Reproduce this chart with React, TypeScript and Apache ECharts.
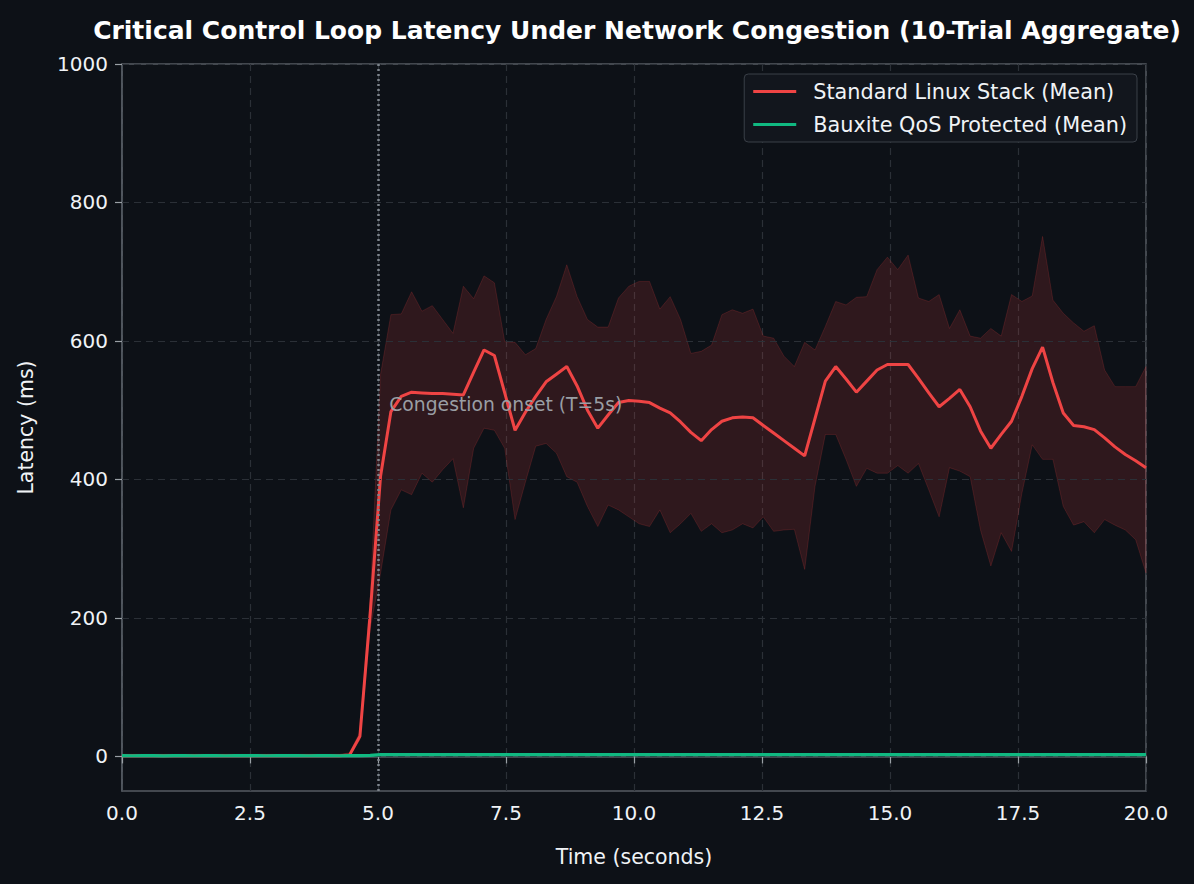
import React, { useEffect, useRef } from "react";
import * as echarts from "echarts";

const N_SAMPLES = 100;
const T_END = 20;
const time: number[] = Array.from({ length: N_SAMPLES }, (_, i) => (i * T_END) / (N_SAMPLES - 1));

const standardMean: number[] = [
  1, 1, 1, 1, 1, 1, 1, 1, 1, 1,
  1, 1, 1, 1, 1, 1, 1, 1, 1, 1,
  1, 1, 2, 29, 207, 405, 498, 520, 526, 525,
  524, 524, 523, 522, 555, 587, 579, 525, 471, 497,
  520, 541, 552, 563, 535, 500, 474, 493, 511, 514,
  513, 511, 503, 496, 483, 468, 456, 472, 484, 489,
  490, 489, 478, 467, 456, 445, 434, 488, 542, 563,
  545, 526, 542, 558, 566, 566, 566, 546, 525, 505,
  517, 530, 505, 470, 445, 465, 484, 520, 560, 591,
  540, 496, 478, 476, 472, 460, 447, 436, 427, 417,
];

const standardUpper: number[] = [
  3, 3, 3, 3, 3, 3, 3, 3, 3, 3,
  3, 3, 3, 3, 3, 3, 3, 3, 3, 3,
  3, 3, 5, 35, 230, 552, 638, 639, 671, 643,
  651, 631, 611, 679, 661, 694, 684, 599, 598, 580,
  589, 631, 664, 710, 664, 631, 620, 620, 662, 679,
  686, 686, 646, 664, 631, 582, 585, 594, 638, 645,
  640, 646, 607, 604, 578, 563, 598, 587, 621, 657,
  652, 663, 664, 703, 721, 703, 724, 662, 657, 667,
  618, 645, 607, 604, 618, 607, 667, 657, 665, 751,
  659, 640, 626, 614, 622, 558, 534, 534, 534, 563,
];

const standardLower: number[] = [
  0, 0, 0, 0, 0, 0, 0, 0, 0, 0,
  0, 0, 0, 0, 0, 0, 0, 0, 0, 0,
  0, 0, 0, 24, 185, 265, 356, 385, 378, 409,
  396, 414, 430, 359, 445, 474, 471, 445, 342, 396,
  448, 452, 438, 404, 396, 361, 332, 363, 356, 346,
  336, 332, 356, 323, 336, 351, 325, 336, 323, 327,
  336, 330, 346, 325, 327, 328, 270, 390, 465, 465,
  429, 390, 416, 409, 409, 420, 409, 423, 385, 346,
  417, 412, 404, 327, 275, 323, 296, 380, 450, 429,
  429, 361, 334, 339, 323, 342, 334, 327, 313, 265,
];

const bauxiteMean: number[] = [
  1.0, 0.9, 1.1, 1.0, 0.8, 1.0, 1.1, 0.9, 1.0, 1.0,
  0.9, 1.0, 1.1, 1.0, 0.9, 1.0, 1.0, 1.1, 0.9, 1.0,
  1.0, 0.9, 1.0, 1.1, 1.5, 2.5, 2.6, 2.4, 2.5, 2.6,
  2.5, 2.4, 2.5, 2.6, 2.5, 2.5, 2.4, 2.6, 2.5, 2.5,
  2.6, 2.4, 2.5, 2.5, 2.6, 2.5, 2.4, 2.5, 2.6, 2.5,
  2.5, 2.4, 2.5, 2.6, 2.5, 2.5, 2.4, 2.5, 2.6, 2.5,
  2.5, 2.4, 2.5, 2.6, 2.5, 2.5, 2.4, 2.5, 2.6, 2.5,
  2.5, 2.4, 2.5, 2.6, 2.5, 2.5, 2.4, 2.5, 2.6, 2.5,
  2.5, 2.4, 2.5, 2.6, 2.5, 2.5, 2.4, 2.5, 2.6, 2.5,
  2.5, 2.4, 2.5, 2.6, 2.5, 2.5, 2.4, 2.5, 2.6, 2.5,
];

const xTicks = { min: 0, max: 20, interval: 2.5 };
const yTickValues: number[] = [0, 200, 400, 600, 800, 1000];
const yRange = { min: -50, max: 1000 };
const congestionOnset = 5;
const annotation = { text: "Congestion onset (T=5s)", x: 5.22, y: 508 };

const TITLE = "Critical Control Loop Latency Under Network Congestion (10-Trial Aggregate)";
const NAME_STD = "Standard Linux Stack (Mean)";
const NAME_BAUX = "Bauxite QoS Protected (Mean)";

const BG = "#0d1117";
const RED = "#ef4444";
const GREEN = "#10b981";
const GRID_LINE = "#2b3037";
const SPINE = "#555b63";
const TEXT = "#f0f3f6";
const FONT = "DejaVu Sans";

export default function App() {
  const ref = useRef<HTMLDivElement>(null);

  useEffect(() => {
    if (!ref.current) return;
    const chart = echarts.init(ref.current, undefined, { renderer: "svg" });

    const pairs = (vals: number[]) => vals.map((v, i) => [time[i], v]);
    const bandData = time.map((t, i) => [t, standardLower[i], standardUpper[i]]);

    const option: any = {
      animation: false,
      backgroundColor: BG,
      textStyle: { fontFamily: FONT },
      title: {
        text: TITLE,
        left: 632,
        textAlign: "center",
        top: 10,
        textStyle: { color: "#ffffff", fontSize: 25, fontWeight: "bold", fontFamily: FONT, lineHeight: 30 },
      },
      legend: {
        data: [NAME_STD, NAME_BAUX],
        orient: "vertical",
        right: 57,
        top: 74,
        padding: [5, 10, 5, 9],
        itemGap: 8,
        itemWidth: 43,
        itemHeight: 3,
        icon: "rect",
        backgroundColor: "#12161d",
        borderColor: "#3a4048",
        borderWidth: 1,
        borderRadius: 4,
        textStyle: { color: TEXT, fontSize: 20.8, fontFamily: FONT, lineHeight: 25, padding: [0, 0, 0, 12] },
      },
      grid: {
        left: 122,
        right: 48,
        top: 64,
        bottom: 93,
        show: true,
        borderColor: SPINE,
        borderWidth: 1.5,
        backgroundColor: BG,
      },
      xAxis: {
        type: "value",
        min: xTicks.min,
        max: xTicks.max,
        interval: xTicks.interval,
        name: "Time (seconds)",
        nameLocation: "middle",
        nameGap: 55,
        nameTextStyle: { color: TEXT, fontSize: 20.5, fontFamily: FONT },
        axisLine: { show: true, lineStyle: { color: SPINE, width: 1.5 } },
        axisTick: { show: true, length: 7, lineStyle: { color: "#9aa0a6", width: 1.2 } },
        axisLabel: {
          color: TEXT,
          fontSize: 20,
          fontFamily: FONT,
          margin: 12,
          formatter: (v: number) => v.toFixed(1),
        },
        splitLine: { show: true, lineStyle: { color: GRID_LINE, type: [7, 5], width: 1.2 } },
      },
      yAxis: {
        type: "value",
        min: yRange.min,
        max: yRange.max,
        name: "Latency (ms)",
        nameLocation: "middle",
        nameGap: 86,
        nameTextStyle: { color: TEXT, fontSize: 20.5, fontFamily: FONT },
        axisLine: { show: true, lineStyle: { color: SPINE, width: 1.5 } },
        axisTick: { show: true, length: 7, customValues: yTickValues, lineStyle: { color: "#9aa0a6", width: 1.2 } },
        axisLabel: {
          color: TEXT,
          fontSize: 20,
          fontFamily: FONT,
          margin: 14,
          customValues: yTickValues,
          formatter: (v: number) => String(v),
        },
        splitLine: { show: false },
      },
      series: [
        {
          name: "band",
          type: "custom",
          data: bandData,
          silent: true,
          z: 1,
          encode: { x: 0, y: [1, 2] },
          renderItem: (params: any, api: any) => {
            if (params.dataIndex !== 0) return null;
            const upperPts = bandData.map((d) => api.coord([d[0], d[2]]));
            const lowerPts = bandData.map((d) => api.coord([d[0], d[1]])).reverse();
            return {
              type: "polygon",
              shape: { points: upperPts.concat(lowerPts) },
              style: {
                fill: "rgba(239,68,68,0.15)",
                stroke: "rgba(239,68,68,0.18)",
                lineWidth: 1,
              },
            };
          },
          markLine: {
            silent: true,
            symbol: "none",
            label: { show: false },
            lineStyle: { color: GRID_LINE, type: [7, 5], width: 1.2 },
            data: yTickValues.map((v) => ({ yAxis: v })),
          },
        },
        {
          name: NAME_STD,
          type: "line",
          data: pairs(standardMean),
          symbol: "none",
          lineStyle: { color: RED, width: 3 },
          itemStyle: { color: RED },
          z: 4,
          markLine: {
            silent: true,
            symbol: "none",
            label: { show: false },
            lineStyle: { color: "#7d848c", type: [2, 3], width: 2.5 },
            data: [{ xAxis: congestionOnset }],
          },
        },
        {
          name: "annotation",
          type: "scatter",
          data: [],
          z: 3,
          markPoint: {
            silent: true,
            symbol: "circle",
            symbolSize: 0,
            data: [{ coord: [annotation.x, annotation.y] }],
            label: {
              show: true,
              position: "right",
              distance: 0,
              formatter: annotation.text,
              color: "#9a9ea4",
              fontSize: 18.75,
              fontFamily: FONT,
            },
          },
        },
        {
          name: NAME_BAUX,
          type: "line",
          data: pairs(bauxiteMean),
          symbol: "none",
          lineStyle: { color: GREEN, width: 3.2 },
          itemStyle: { color: GREEN },
          z: 5,
        },
      ],
    };

    chart.setOption(option);
    return () => chart.dispose();
  }, []);

  return (
    <div
      ref={ref}
      style={{ position: "absolute", left: 0, top: 0, width: 1194, height: 884 }}
    />
  );
}
